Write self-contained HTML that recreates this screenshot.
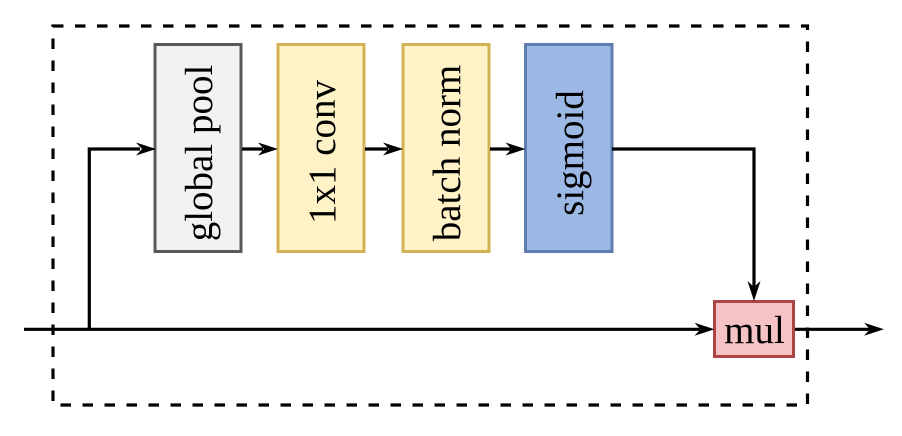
<!DOCTYPE html>
<html>
<head>
<meta charset="utf-8">
<style>
  html,body{margin:0;padding:0;background:#fff;}
  svg{display:block;}
  text{font-family:"Liberation Serif","Times New Roman",serif;font-size:39px;fill:#000;}
</style>
</head>
<body>
<svg width="902" height="436" viewBox="0 0 902 436" xmlns="http://www.w3.org/2000/svg">
  <!-- dashed container -->
  <rect x="53" y="26" width="754.5" height="379" fill="none" stroke="#000" stroke-width="3.2" stroke-dasharray="10.5 11.5"/>

  <!-- boxes -->
  <rect x="155" y="44.5" width="86" height="207" fill="#f2f2f2" stroke="#595959" stroke-width="3"/>
  <rect x="278" y="44.5" width="86" height="207" fill="#fff2c6" stroke="#d3b254" stroke-width="3"/>
  <rect x="403" y="44.5" width="86" height="207" fill="#fff2c6" stroke="#d3b254" stroke-width="3"/>
  <rect x="525.5" y="44.5" width="86.5" height="207" fill="#9cb9e5" stroke="#5d7db3" stroke-width="3"/>
  <rect x="714.5" y="301.5" width="79" height="55" fill="#f5c3c3" stroke="#ad4545" stroke-width="3"/>

  <!-- labels -->
  <text transform="translate(212,153) rotate(-90)" text-anchor="middle">global pool</text>
  <text transform="translate(335,152) rotate(-90)" text-anchor="middle">1x1 conv</text>
  <text transform="translate(460,153) rotate(-90)" text-anchor="middle">batch norm</text>
  <text transform="translate(583,153) rotate(-90)" text-anchor="middle">sigmoid</text>
  <text x="754.5" y="343" text-anchor="middle">mul</text>

  <!-- connectors -->
  <g fill="none" stroke="#000" stroke-width="3.2">
    <path d="M24 329.3 H700"/>
    <path d="M89.3 329.3 V149 H140"/>
    <path d="M242 149 H263"/>
    <path d="M365 149 H388"/>
    <path d="M490 149 H511"/>
    <path d="M612 149 H754 V288"/>
    <path d="M795 329.3 H870"/>
  </g>
  <!-- arrowheads -->
  <g fill="#000">
    <path d="M156 149 L136 142.5 L142 149 L136 155.5 Z"/>
    <path d="M278 149 L258 142.5 L264 149 L258 155.5 Z"/>
    <path d="M403 149 L383 142.5 L389 149 L383 155.5 Z"/>
    <path d="M525.5 149 L505.5 142.5 L511.5 149 L505.5 155.5 Z"/>
    <path d="M714.5 329.3 L694.5 322.8 L700.5 329.3 L694.5 335.8 Z"/>
    <path d="M754 301 L747.5 281 L754 287 L760.5 281 Z"/>
    <path d="M884 329.3 L864 322.8 L870 329.3 L864 335.8 Z"/>
  </g>
</svg>
</body>
</html>
